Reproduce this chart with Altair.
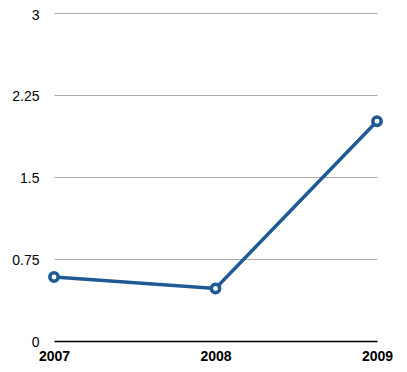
import altair as alt
import pandas as pd

years = ["2007", "2008", "2009"]
values = [0.585, 0.48, 2.01]
y_ticks = [0, 0.75, 1.5, 2.25, 3]

df = pd.DataFrame({"year": years, "value": values})
blue = "#1f5a96"

x = alt.X("year:O", scale=alt.Scale(type="point", padding=0), title=None,
          axis=alt.Axis(labelAngle=0, labelFont="Liberation Sans", labelFontSize=14,
                        labelFontWeight="bold", labelColor="#000", labelPadding=8,
                        ticks=False, domainColor="#000", domainWidth=1.5, grid=False))
y = alt.Y("value:Q", scale=alt.Scale(domain=[0, 3], nice=False), title=None,
          axis=alt.Axis(values=y_ticks, labelExpr="datum.value == 0 ? '0' : format(datum.value, '~g')",
                        labelFont="Liberation Sans", labelFontSize=14, labelColor="#000",
                        labelPadding=15,
                        labelOffset={"condition": {"test": "datum.value == 3", "value": 2.5}, "value": 1},
                        ticks=False, domain=False,
                        gridColor="#aaaaaa", gridWidth=1))

line = alt.Chart(df).mark_line(color=blue, strokeWidth=3.5).encode(x=x, y=y)
pts = alt.Chart(df).mark_point(filled=True, fill="white", stroke=blue, strokeWidth=3.5,
                               size=70, opacity=1).encode(x=x, y=y)

chart = (line + pts).properties(
    width=323, height=328,
    autosize=alt.AutoSizeParams(type="none"),
    padding={"left": 46, "top": 5, "right": 22, "bottom": 30},
).configure_view(stroke=None)

chart.save("out.html", embed_options={"renderer": "svg", "actions": False})
